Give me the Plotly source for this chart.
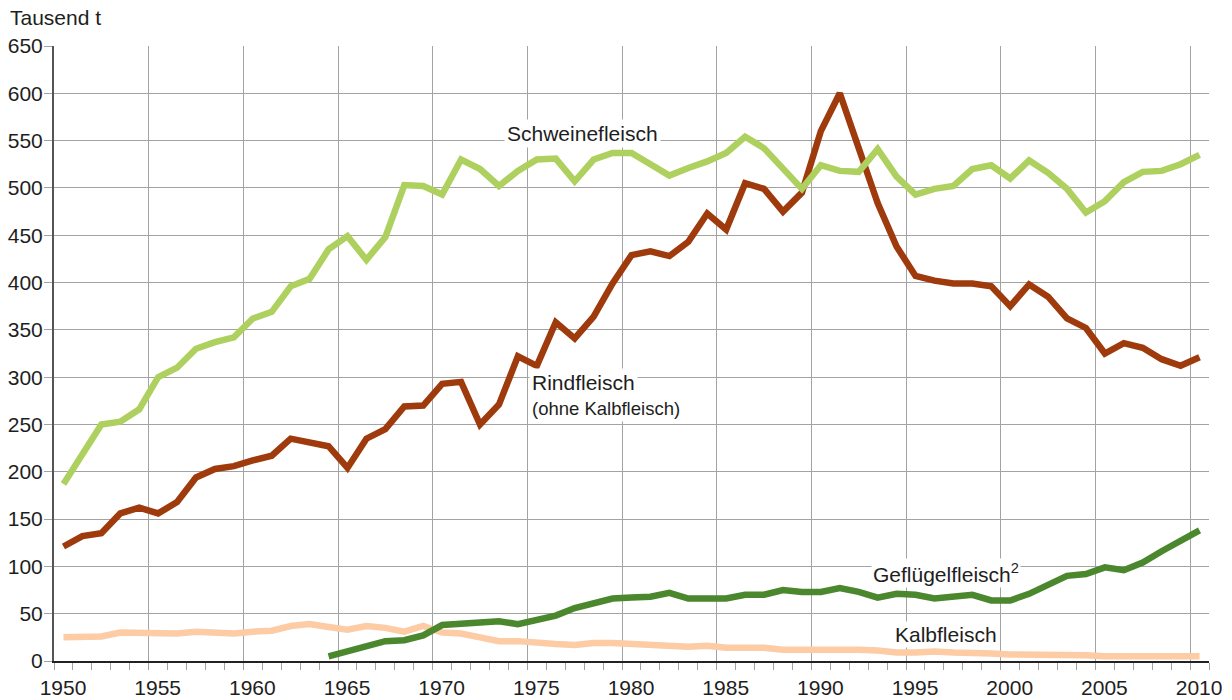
import plotly.graph_objects as go

years = list(range(1950, 2011))

schwein = [187, 220, 250, 253, 266, 300, 310, 330, 337, 342,
           362, 369, 396, 404, 435, 449, 424, 448, 503, 502,
           493, 530, 520, 502, 518, 530, 531, 507, 530, 537,
           537, 525, 513, 521, 528, 537, 554, 542, 521, 499,
           524, 518, 517, 541, 512, 493, 499, 502, 520, 524,
           510, 529, 516, 499, 474, 486, 506, 517, 518, 525, 535]

rind = [121, 132, 135, 156, 162, 156, 168, 194, 203, 206,
        212, 217, 235, 231, 227, 204, 235, 245, 269, 270,
        293, 295, 250, 271, 322, 312, 358, 341, 364, 399,
        429, 433, 428, 443, 473, 456, 505, 499, 475, 495,
        560, 600, 540, 484, 438, 407, 402, 399, 399, 396,
        375, 398, 385, 362, 352, 325, 336, 331, 319, 312, 321]

gefluegel_years = list(range(1964, 2011))
gefluegel = [5, 10, 16, 21, 22, 27,
             38, 39, 40, 42, 39, 44, 48, 56, 61, 66,
             67, 68, 72, 66, 66, 66, 70, 70, 75, 73,
             73, 77, 73, 67, 71, 70, 66, 68, 70, 64,
             64, 71, 80, 90, 92, 99, 96, 104, 116, 127, 138]

kalb = [25, 26, 26, 30, 30, 29, 29, 31, 30, 29,
        31, 32, 37, 39, 36, 33, 37, 35, 31, 37,
        30, 29, 25, 21, 21, 19, 18, 17, 19, 19,
        18, 17, 16, 15, 16, 14, 14, 14, 12, 12,
        12, 13, 12, 11, 9, 9, 10, 9, 9, 8,
        7, 7, 6, 6, 6, 5, 5, 5, 5, 5, 5]

grid_years = [1949.5 + 5 * k for k in range(13)] + [2010.5]
tick_text = [str(1950 + 5 * k) for k in range(13)] + [""]
minor_years = [1949.5 + k for k in range(62)]
y_ticks = list(range(0, 651, 50))

FONT = "Liberation Sans, Arial, Helvetica, sans-serif"
TXT = "#1e1e1e"
GRID = "#a3a3a3"

fig = go.Figure()
fig.add_trace(go.Scatter(x=years, y=kalb, mode="lines",
                         line=dict(color="#fdcba4", width=6.5), name="Kalbfleisch"))
fig.add_trace(go.Scatter(x=gefluegel_years, y=gefluegel, mode="lines",
                         line=dict(color="#4a872d", width=6.5), name="Geflügelfleisch"))
fig.add_trace(go.Scatter(x=years, y=rind, mode="lines",
                         line=dict(color="#9e3a0c", width=6.5), name="Rindfleisch"))
fig.add_trace(go.Scatter(x=years, y=schwein, mode="lines",
                         line=dict(color="#aed05f", width=6.5), name="Schweinefleisch"))

ann_font = dict(family=FONT, size=21, color=TXT)
annotations = [
    dict(text="Tausend t", xref="paper", yref="paper", x=-0.0398, y=1.047,
         xanchor="left", yanchor="middle", showarrow=False, font=ann_font),
    dict(text="Schweinefleisch", x=1977.39, y=558, xanchor="center", yanchor="middle",
         showarrow=False, bgcolor="white", font=ann_font, borderpad=2),
    dict(text="Rindfleisch", x=1974.59, y=294, xanchor="left", yanchor="middle",
         showarrow=False, bgcolor="white", font=ann_font, borderpad=2),
    dict(text="(ohne Kalbfleisch)", x=1974.59, y=267, xanchor="left", yanchor="middle",
         showarrow=False, bgcolor="white", font=dict(family=FONT, size=18.5, color=TXT), borderpad=2),
    dict(text="Geflügelfleisch<sup>2</sup>", x=1996.6, y=93, xanchor="center", yanchor="middle",
         showarrow=False, bgcolor="white", font=ann_font, borderpad=1),
    dict(text="Kalbfleisch", x=1996.6, y=28, xanchor="center", yanchor="middle",
         showarrow=False, bgcolor="white", font=ann_font, borderpad=1),
]

fig.update_layout(
    width=1232, height=700,
    margin=dict(l=54, r=23, t=46, b=39, autoexpand=False),
    paper_bgcolor="white", plot_bgcolor="white",
    showlegend=False,
    font=dict(family=FONT, size=21, color=TXT),
    annotations=annotations,
    xaxis=dict(
        range=[1949.5, 2010.5], tickmode="array", tickvals=grid_years, ticktext=tick_text,
        ticklabelshift=9, showgrid=True, gridcolor=GRID, gridwidth=1.2,
        ticks="outside", ticklen=7, tickcolor=GRID, tickwidth=1.2,
        minor=dict(tickmode="array", tickvals=minor_years, ticks="outside", ticklen=7,
                   tickcolor=GRID, tickwidth=1.2, showgrid=False),
        showline=True, linecolor="#222222", linewidth=2,
        zeroline=False, tickfont=dict(family=FONT, size=21, color=TXT),
    ),
    yaxis=dict(
        range=[0, 650], tickmode="array", tickvals=y_ticks,
        showgrid=True, gridcolor=GRID, gridwidth=1.2,
        ticks="outside", ticklen=8, tickcolor=GRID, tickwidth=1.2,
        ticklabelstandoff=-3,
        showline=True, linecolor="#555555", linewidth=2,
        zeroline=False, tickfont=dict(family=FONT, size=21, color=TXT),
    ),
)

fig.write_html(
    "out.html",
    config={"displayModeBar": False},
    post_script="document.body.style.margin='0';document.body.style.overflow='hidden';",
)
